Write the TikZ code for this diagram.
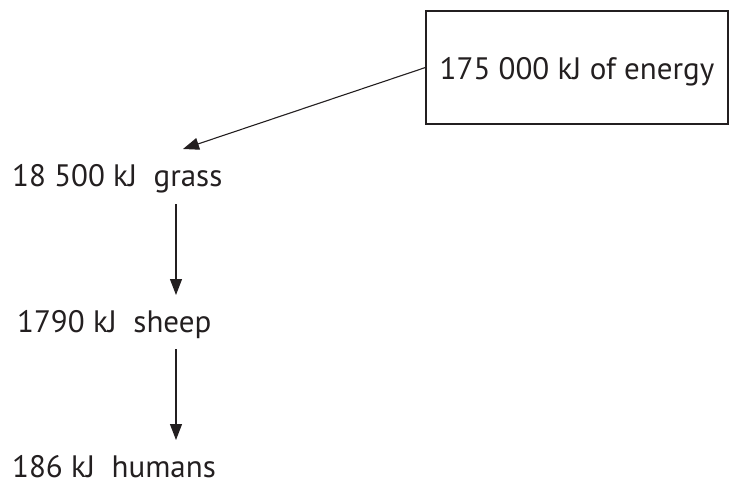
\documentclass[tikz,border=0pt]{standalone}
\usepackage{fontspec}
\setmainfont{PT Sans}
\usetikzlibrary{arrows.meta}
\definecolor{ink}{HTML}{231F20}
\begin{document}
\begin{tikzpicture}[x=1pt,y=-1pt,
  lbl/.style={inner sep=0pt,anchor=base west,font=\fontsize{31}{37}\selectfont,text=ink},
  conn/.style={draw=ink,line width=1.1pt,-{Triangle[length=16pt,width=12pt]}}]
\useasboundingbox (0,0) rectangle (733,495);
\node[draw=ink,line width=1.1pt,minimum width=302pt,minimum height=113pt,inner sep=0pt,
  text height=23pt,text depth=0pt,font=\fontsize{31}{37}\selectfont,text=ink] (box) at (577,67.5) {175 000 kJ of energy};
\node[lbl] (grass) at (12,186) {18 500 kJ\ \ grass};
\node[lbl] (sheep) at (17,332) {1790 kJ\ \ sheep};
\node[lbl] (humans) at (12,477) {186 kJ\ \ humans};
\coordinate (gtip) at (183,149);
\coordinate (a1) at (176,204);
\coordinate (a1t) at (176,295);
\coordinate (a2) at (176,349);
\coordinate (a2t) at (176,440);
\draw[conn] (box.west) -- (gtip);
\draw[conn] (a1) -- (a1t);
\draw[conn] (a2) -- (a2t);
\end{tikzpicture}
\end{document}
